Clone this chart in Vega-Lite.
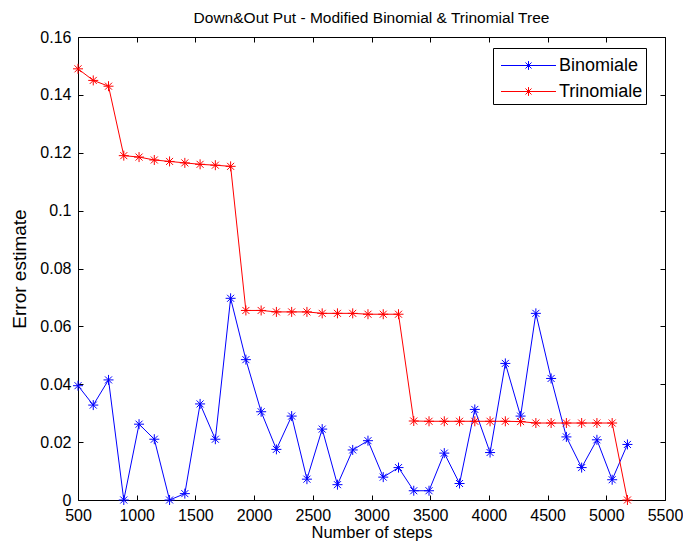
{
  "$schema": "https://vega.github.io/schema/vega-lite/v6.json",
  "width": 587,
  "height": 463,
  "autosize": "none",
  "padding": {"left": 78, "top": 37, "right": 18, "bottom": 46},
  "background": "white",
  "title": {"text": "Down&Out Put - Modified Binomial & Trinomial Tree", "font": "Liberation Sans", "fontSize": 15.5, "fontWeight": "normal", "color": "black", "offset": 3},
  "config": {
    "view": {"stroke": "black", "strokeWidth": 1},
    "axis": {"grid": false, "domain": false, "tickColor": "black", "tickSize": -5, "labelPadding": 12, "labelFlush": false, "labelFont": "Liberation Sans", "labelFontSize": 16, "labelColor": "black", "titleFont": "Liberation Sans", "titleFontSize": 17, "titleFontWeight": "normal", "titleColor": "black"},
    "legend": {"labelFont": "Liberation Sans", "labelFontSize": 18, "labelColor": "black"}
  },
  "data": {"values": [
    {"steps": 500, "method": "Binomiale", "err": 0.0395},
    {"steps": 630, "method": "Binomiale", "err": 0.0328},
    {"steps": 760, "method": "Binomiale", "err": 0.0415},
    {"steps": 890, "method": "Binomiale", "err": 0.0},
    {"steps": 1020, "method": "Binomiale", "err": 0.0262},
    {"steps": 1150, "method": "Binomiale", "err": 0.021},
    {"steps": 1280, "method": "Binomiale", "err": 0.0},
    {"steps": 1410, "method": "Binomiale", "err": 0.0022},
    {"steps": 1540, "method": "Binomiale", "err": 0.0332},
    {"steps": 1670, "method": "Binomiale", "err": 0.021},
    {"steps": 1800, "method": "Binomiale", "err": 0.0697},
    {"steps": 1930, "method": "Binomiale", "err": 0.0485},
    {"steps": 2060, "method": "Binomiale", "err": 0.0305},
    {"steps": 2190, "method": "Binomiale", "err": 0.0175},
    {"steps": 2320, "method": "Binomiale", "err": 0.029},
    {"steps": 2450, "method": "Binomiale", "err": 0.0072},
    {"steps": 2580, "method": "Binomiale", "err": 0.0245},
    {"steps": 2710, "method": "Binomiale", "err": 0.0053},
    {"steps": 2840, "method": "Binomiale", "err": 0.0173},
    {"steps": 2970, "method": "Binomiale", "err": 0.0205},
    {"steps": 3100, "method": "Binomiale", "err": 0.0079},
    {"steps": 3230, "method": "Binomiale", "err": 0.0112},
    {"steps": 3360, "method": "Binomiale", "err": 0.0032},
    {"steps": 3490, "method": "Binomiale", "err": 0.0032},
    {"steps": 3620, "method": "Binomiale", "err": 0.0162},
    {"steps": 3750, "method": "Binomiale", "err": 0.0057},
    {"steps": 3880, "method": "Binomiale", "err": 0.0313},
    {"steps": 4010, "method": "Binomiale", "err": 0.0164},
    {"steps": 4140, "method": "Binomiale", "err": 0.0472},
    {"steps": 4270, "method": "Binomiale", "err": 0.029},
    {"steps": 4400, "method": "Binomiale", "err": 0.0645},
    {"steps": 4530, "method": "Binomiale", "err": 0.042},
    {"steps": 4660, "method": "Binomiale", "err": 0.0218},
    {"steps": 4790, "method": "Binomiale", "err": 0.0112},
    {"steps": 4920, "method": "Binomiale", "err": 0.0208},
    {"steps": 5050, "method": "Binomiale", "err": 0.007},
    {"steps": 5180, "method": "Binomiale", "err": 0.0192},
    {"steps": 500, "method": "Trinomiale", "err": 0.149},
    {"steps": 630, "method": "Trinomiale", "err": 0.145},
    {"steps": 760, "method": "Trinomiale", "err": 0.143},
    {"steps": 890, "method": "Trinomiale", "err": 0.119},
    {"steps": 1020, "method": "Trinomiale", "err": 0.1185},
    {"steps": 1150, "method": "Trinomiale", "err": 0.1175},
    {"steps": 1280, "method": "Trinomiale", "err": 0.117},
    {"steps": 1410, "method": "Trinomiale", "err": 0.1165},
    {"steps": 1540, "method": "Trinomiale", "err": 0.116},
    {"steps": 1670, "method": "Trinomiale", "err": 0.1157},
    {"steps": 1800, "method": "Trinomiale", "err": 0.1153},
    {"steps": 1930, "method": "Trinomiale", "err": 0.0655},
    {"steps": 2060, "method": "Trinomiale", "err": 0.0655},
    {"steps": 2190, "method": "Trinomiale", "err": 0.065},
    {"steps": 2320, "method": "Trinomiale", "err": 0.065},
    {"steps": 2450, "method": "Trinomiale", "err": 0.065},
    {"steps": 2580, "method": "Trinomiale", "err": 0.0645},
    {"steps": 2710, "method": "Trinomiale", "err": 0.0645},
    {"steps": 2840, "method": "Trinomiale", "err": 0.0645},
    {"steps": 2970, "method": "Trinomiale", "err": 0.0642},
    {"steps": 3100, "method": "Trinomiale", "err": 0.0642},
    {"steps": 3230, "method": "Trinomiale", "err": 0.0642},
    {"steps": 3360, "method": "Trinomiale", "err": 0.0273},
    {"steps": 3490, "method": "Trinomiale", "err": 0.0272},
    {"steps": 3620, "method": "Trinomiale", "err": 0.0272},
    {"steps": 3750, "method": "Trinomiale", "err": 0.0272},
    {"steps": 3880, "method": "Trinomiale", "err": 0.0272},
    {"steps": 4010, "method": "Trinomiale", "err": 0.0272},
    {"steps": 4140, "method": "Trinomiale", "err": 0.0272},
    {"steps": 4270, "method": "Trinomiale", "err": 0.0271},
    {"steps": 4400, "method": "Trinomiale", "err": 0.0266},
    {"steps": 4530, "method": "Trinomiale", "err": 0.0266},
    {"steps": 4660, "method": "Trinomiale", "err": 0.0266},
    {"steps": 4790, "method": "Trinomiale", "err": 0.0266},
    {"steps": 4920, "method": "Trinomiale", "err": 0.0266},
    {"steps": 5050, "method": "Trinomiale", "err": 0.0266},
    {"steps": 5180, "method": "Trinomiale", "err": 0.0}
  ]},
  "layer": [
    {
      "encoding": {
        "x": {"field": "steps", "type": "quantitative", "scale": {"domain": [500, 5500], "nice": false, "zero": false}, "axis": {"orient": "bottom", "values": [500, 1000, 1500, 2000, 2500, 3000, 3500, 4000, 4500, 5000, 5500], "format": "d", "labelPadding": 12, "title": "Number of steps", "titleFontSize": 16.5, "titlePadding": 1}},
        "y": {"field": "err", "type": "quantitative", "scale": {"domain": [0, 0.16], "nice": false}, "axis": {"orient": "left", "values": [0, 0.02, 0.04, 0.06, 0.08, 0.1, 0.12, 0.14, 0.16], "format": ".2~f", "title": "Error estimate", "titleFontSize": 19, "titlePadding": 10}},
        "color": {"field": "method", "type": "nominal", "scale": {"domain": ["Binomiale", "Trinomiale"], "range": ["#0000ff", "#ff0000"]},
          "legend": {"title": null, "orient": "none", "legendX": 415, "legendY": 11, "strokeColor": "black", "fillColor": "white", "padding": 3, "symbolType": "M-2,0H2M0,-0.32V0.32M-0.22,-0.22L0.22,0.22M-0.22,0.22L0.22,-0.22", "symbolSize": 756, "symbolOffset": 18, "symbolStrokeWidth": 1, "symbolFillColor": "transparent", "rowPadding": 2, "labelOffset": 16, "labelExpr": "datum.label + '  '"}}
      },
      "layer": [
        {"mark": {"type": "line", "strokeWidth": 1}},
        {"mark": {"type": "point", "shape": "M-1,0H1M0,-1V1M-0.7,-0.7L0.7,0.7M-0.7,0.7L0.7,-0.7", "size": 100, "filled": false, "strokeWidth": 1, "opacity": 1}}
      ]
    },
    {
      "mark": {"type": "point", "opacity": 0},
      "encoding": {
        "x": {"field": "steps", "type": "quantitative", "axis": {"orient": "top", "values": [500, 1000, 1500, 2000, 2500, 3000, 3500, 4000, 4500, 5000, 5500], "labels": false, "title": null}},
        "y": {"field": "err", "type": "quantitative", "axis": {"orient": "right", "values": [0, 0.02, 0.04, 0.06, 0.08, 0.1, 0.12, 0.14, 0.16], "labels": false, "title": null}}
      }
    }
  ],
  "resolve": {"axis": {"x": "independent", "y": "independent"}}
}
